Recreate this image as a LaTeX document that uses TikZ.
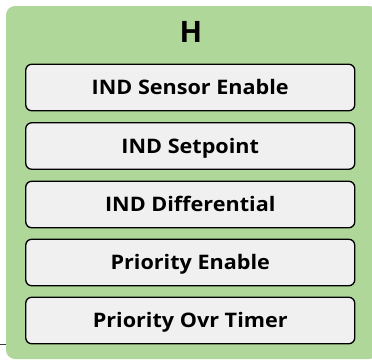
\documentclass[tikz,border=0pt]{standalone}
\usepackage{fontspec}
\setmainfont{Open Sans}
\newfontfamily\fieldfont[FakeStretch=1.08]{Open Sans}
\definecolor{panelgreen}{RGB}{176,215,154}
\definecolor{boxgray}{RGB}{240,240,240}
\definecolor{wiregray}{RGB}{60,60,60}
\begin{document}
\begin{tikzpicture}[x=1pt,y=-1pt,
  panel/.style={fill=panelgreen, draw=none, rounded corners=9pt},
  field/.style={draw=black, line width=1.3pt, fill=boxgray, rounded corners=6pt,
    minimum width=329pt, minimum height=46.5pt, inner sep=0pt,
    text height=14.2pt, text depth=0pt,
    font=\fieldfont\bfseries\fontsize{20}{22}\selectfont},
  wire/.style={draw=wiregray, line width=1pt}]
\useasboundingbox (0,0) rectangle (372,362);
\fill[panel] (6,6) rectangle (378,359);
\coordinate (pw) at (6,344);
\coordinate (lw) at (0,344);
\node[font=\bfseries\fontsize{29.5}{32}\selectfont, text height=21pt, text depth=0pt,
  inner sep=0pt] (title) at (191,32.4) {H};
\node[field] (f1) at (190.25,87.5) {IND Sensor Enable};
\node[field] (f2) at (190.25,146) {IND Setpoint};
\node[field] (f3) at (190.25,204.5) {IND Differential};
\node[field] (f4) at (190.25,262.5) {Priority Enable};
\node[field] (f5) at (190.25,320.5) {Priority Ovr Timer};
\draw[wire] (lw) -- (pw);
\end{tikzpicture}
\end{document}
